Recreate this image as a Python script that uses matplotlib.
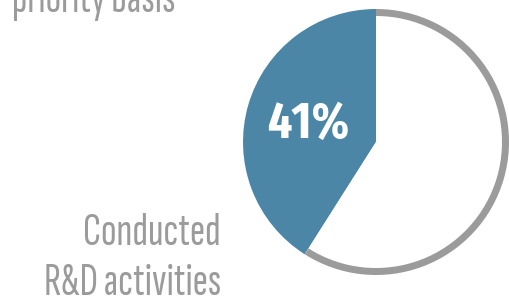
import matplotlib
matplotlib.use("Agg")
import matplotlib.pyplot as plt

labels = ["Conducted R&D activities", "Did not"]
values = [41, 59]
pct_label = "41%"
top_text = "priority basis"
side_lines = ["Conducted", "R&D activities"]

fam_text = ["Sofia Sans Extra Condensed", "DejaVu Sans"]
fam_bold = ["Fira Sans Extra Condensed", "DejaVu Sans"]

W, H = 509, 303
fig = plt.figure(figsize=(W / 100, H / 100), dpi=100)
ax = fig.add_axes([0, 0, 1, 1])

cx, cy, R = 376, H - 142, 133
blue = "#4b86a6"
gray = "#9b9b9b"

ax.pie(values, colors=[blue, "white"], startangle=90, counterclock=True,
       center=(cx, cy), radius=R, wedgeprops=dict(linewidth=0))
ax.pie(values, colors=["none", gray], startangle=90, counterclock=True,
       center=(cx, cy), radius=R, wedgeprops=dict(width=7, linewidth=0))

ax.set_xlim(0, W)
ax.set_ylim(0, H)
ax.set_aspect("equal")
ax.axis("off")

ax.text(308.5, H - 138, pct_label, color="white", fontsize=37, fontweight="bold",
        family=fam_bold, ha="center", va="baseline")
ax.text(221, H - 245, side_lines[0], color=gray, fontsize=33, family=fam_text,
        ha="right", va="baseline")
ax.text(221, H - 295, side_lines[1], color=gray, fontsize=33, family=fam_text,
        ha="right", va="baseline")
ax.text(176, H - 12, top_text, color=gray, fontsize=33, family=fam_text,
        ha="right", va="baseline")

fig.savefig("out.png", dpi=100)
